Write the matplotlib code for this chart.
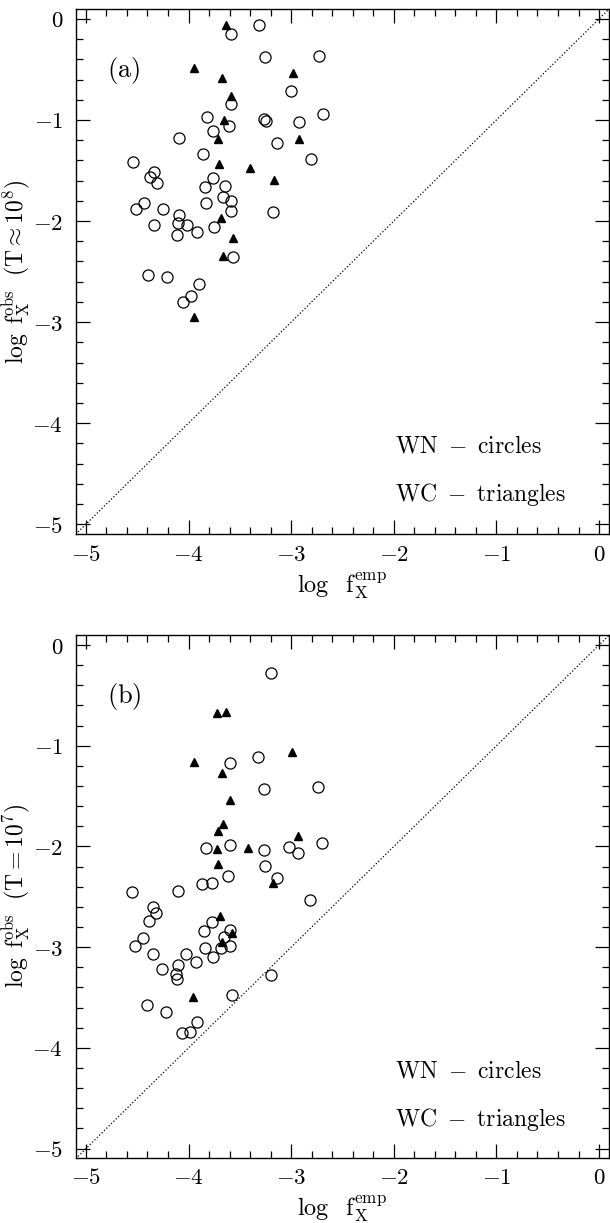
import matplotlib
matplotlib.use("Agg")
import matplotlib.pyplot as plt
from matplotlib.ticker import MultipleLocator, FuncFormatter

plt.rcParams['mathtext.fontset'] = 'cm'
plt.rcParams['font.family'] = 'serif'
plt.rcParams['font.serif'] = ['DejaVu Serif']

# panel (a): T ~ 1e8
wn_a_x = [-3.315, -3.588, -3.259, -2.733, -3.006, -3.591, -2.694, -3.821, -3.263, -3.244,
          -3.610, -2.925, -3.763, -4.094, -3.137, -3.860, -2.808, -4.542, -4.335, -4.377,
          -4.308, -3.763, -3.838, -3.643, -3.665, -3.591, -3.828, -3.591, -3.181, -4.438,
          -4.510, -4.247, -4.091, -4.104, -4.016, -4.341, -4.114, -3.916, -3.756, -3.565,
          -4.396, -4.211, -3.902, -3.977, -4.052]
wn_a_y = [-0.059, -0.148, -0.379, -0.366, -0.712, -0.841, -0.940, -0.970, -0.990, -1.006,
          -1.056, -1.019, -1.108, -1.175, -1.230, -1.339, -1.385, -1.415, -1.511, -1.560,
          -1.626, -1.570, -1.662, -1.652, -1.758, -1.801, -1.824, -1.897, -1.910, -1.818,
          -1.883, -1.883, -1.939, -2.016, -2.041, -2.038, -2.137, -2.111, -2.058, -2.358,
          -2.536, -2.553, -2.619, -2.741, -2.800]
wc_a_x = [-3.633, -3.948, -3.672, -2.984, -3.591, -3.659, -3.714, -2.928, -3.707, -3.405,
          -3.169, -3.682, -3.568, -3.663, -3.945]
wc_a_y = [-0.059, -0.488, -0.587, -0.531, -0.759, -0.999, -1.191, -1.191, -1.435, -1.471,
          -1.593, -1.972, -2.164, -2.342, -2.952]

# panel (b): T = 1e7
wn_b_x = [-3.201, -3.321, -3.594, -3.269, -2.743, -3.828, -3.597, -3.269, -3.019, -2.935,
          -2.701, -3.253, -3.139, -3.617, -3.867, -3.773, -4.104, -4.552, -2.821, -4.344,
          -4.318, -4.386, -3.773, -3.851, -3.600, -3.659, -4.445, -4.520, -3.844, -3.682,
          -3.597, -4.351, -4.029, -3.766, -3.929, -4.104, -4.257, -4.120, -4.114, -3.198,
          -3.578, -4.409, -4.221, -3.916, -4.065, -3.987]
wn_b_y = [-0.281, -1.109, -1.174, -1.429, -1.413, -2.012, -1.985, -2.035, -2.002, -2.068,
          -1.962, -2.191, -2.310, -2.296, -2.375, -2.365, -2.439, -2.449, -2.531, -2.598,
          -2.664, -2.737, -2.747, -2.836, -2.829, -2.895, -2.912, -2.985, -3.005, -3.005,
          -2.988, -3.064, -3.071, -3.094, -3.150, -3.177, -3.216, -3.266, -3.312, -3.276,
          -3.474, -3.574, -3.643, -3.739, -3.848, -3.845]
wc_b_x = [-3.721, -3.639, -2.990, -3.951, -3.672, -3.594, -3.662, -3.714, -2.935, -3.724,
          -3.419, -3.717, -3.178, -3.692, -3.578, -3.672, -3.958]
wc_b_y = [-0.672, -0.665, -1.065, -1.158, -1.274, -1.539, -1.774, -1.843, -1.893, -2.028,
          -2.015, -2.177, -2.362, -2.687, -2.862, -2.945, -3.491]

panels = [
    ('a', wn_a_x, wn_a_y, wc_a_x, wc_a_y,
     r'$\log\ {\rm f}_{\rm X}^{\rm obs}\ \ ({\rm T}\approx10^8)$',
     [0.124, 0.5631, 0.874, 0.4293], (-5.1, 0.095)),
    ('b', wn_b_x, wn_b_y, wc_b_x, wc_b_y,
     r'$\log\ {\rm f}_{\rm X}^{\rm obs}\ \ ({\rm T}=10^7)$',
     [0.124, 0.0534, 0.874, 0.4274], (-5.09, 0.1)),
]

fmt = FuncFormatter(lambda v, p: r'$%g$' % v)

fig = plt.figure(figsize=(6.1, 12.23), dpi=100)
for tag, cx, cy, tx, ty, ylab, rect, ylim in panels:
    ax = fig.add_axes(rect)
    ax.plot([-5.1, 0.1], [-5.1, 0.1], ls=':', color='black', lw=0.9)
    ax.plot(cx, cy, 'o', ms=8, mfc='none', mec='black', mew=0.9)
    ax.plot(tx, ty, '^', ms=6, color='black')
    ax.set_xlim(-5.1, 0.095)
    ax.set_ylim(*ylim)
    ax.xaxis.set_major_locator(MultipleLocator(1))
    ax.xaxis.set_minor_locator(MultipleLocator(0.2))
    ax.yaxis.set_major_locator(MultipleLocator(1))
    ax.yaxis.set_minor_locator(MultipleLocator(0.2))
    ax.xaxis.set_major_formatter(fmt)
    ax.yaxis.set_major_formatter(fmt)
    ax.tick_params(which='both', direction='in', top=True, right=True, width=0.9)
    ax.tick_params(which='major', length=10, labelsize=16.5)
    ax.tick_params(axis='x', which='major', pad=7)
    ax.tick_params(axis='y', which='major', pad=9)
    ax.tick_params(which='minor', length=5)
    for s in ax.spines.values():
        s.set_linewidth(1.0)
    ax.set_xlabel(r'$\log\ \ {\rm f}_{\rm X}^{\rm emp}$', fontsize=17.5, labelpad=3)
    ax.set_ylabel(ylab, fontsize=17)
    ax.yaxis.set_label_coords(-0.08, 0.5)
    ax.text(-4.79, -0.51, r'$({\rm %s})$' % tag, fontsize=19, va='center')
    ax.text(-1.99, -4.23, r'${\rm WN\ -\ circles}$', fontsize=17, va='center')
    ax.text(-1.99, -4.71, r'${\rm WC\ -\ triangles}$', fontsize=17, va='center')

fig.savefig('out.png', dpi=100)
